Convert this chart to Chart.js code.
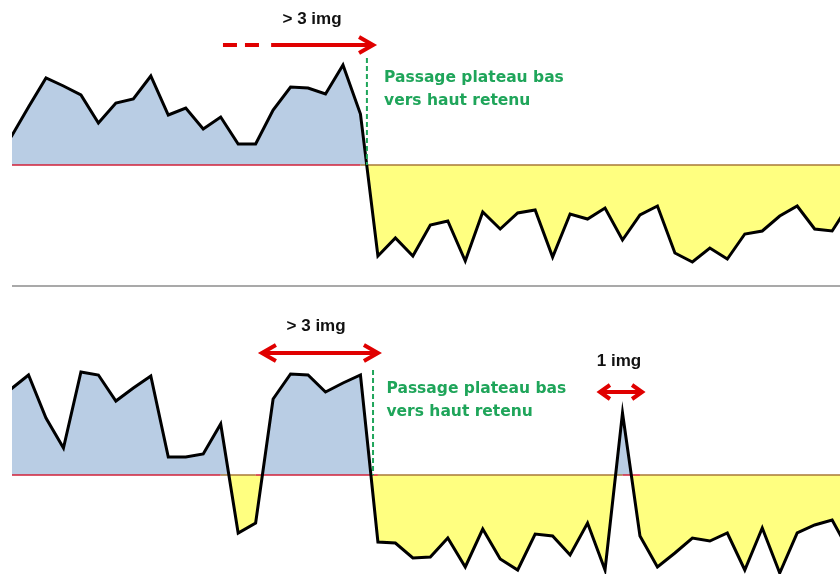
<!DOCTYPE html>
<html lang="fr">

<head>
    <meta charset="UTF-8" />
    <title>Passage plateau bas vers haut</title>
    <script src="https://cdn.jsdelivr.net/npm/chart.js"></script>
    <style>
        body { margin: 0; background: #fff; width: 840px; height: 574px; overflow: hidden; }
        canvas { display: block; }
        .sep { margin-left: 12px; width: 828px; height: 2px; background: #a9a9a9; }
    </style>
</head>

<body>
    <canvas id="haut" width="840" height="285"></canvas>
    <div class="sep"></div>
    <canvas id="bas" width="840" height="287"></canvas>

    <script>
        // indices d'image (les deux bords sont coupés)
        const images = [-2, -1, 0, 1, 2, 3, 4, 5, 6, 7, 8, 9, 10, 11, 12, 13, 14, 15, 16, 17, 18, 19, 20,
            21, 22, 23, 24, 25, 26, 27, 28, 29, 30, 31, 32, 33, 34, 35, 36, 37, 38, 39, 40, 41, 42, 43, 44, 45, 46];
        const seuil = 100;

        // niveau mesuré - cas 1 (plateau bas -> haut)
        const niveauHaut = [128, 158, 187, 179, 170, 142, 162, 166, 189, 150, 157, 136, 148, 121, 121, 155, 178, 177, 171, 200, 151,
            9, 27, 9, 40, 44, 4, 53, 36, 52, 55, 8, 51, 46, 57, 25, 50, 59, 12, 3, 17, 6, 31, 34, 49, 59, 36, 34, 61];

        // niveau mesuré - cas 2 (avec un pic isolé)
        const niveauBas = [186, 200, 157, 127, 203, 200, 174, 187, 199, 118, 118, 121, 151, 42, 52, 176, 201, 200, 183, 192, 200,
            33, 32, 17, 18, 37, 8, 46, 16, 5, 41, 39, 20, 52, 5, 162, 39, 8, 22, 37, 34, 42, 5, 47, 2, 42, 50, 55, 23];

        const xMin = -1.946, xMax = 45.45;

        const BLEU = "#b9cde4";
        const JAUNE = "#ffff80";
        const ROUGE = "#e00000";
        const VERT = "#1fa55a";

        // annotations (x en indice d'image, y en niveau)
        const notesHaut = {
            textes: [{ t: "> 3 img", x: 15.23, y: 241 }],
            fleches: [{ de: 10.13, a: 18.72, y: 220, pointilleJusqua: 12.2, debut: false, fin: true, tete: 14, demi: 8 }],
            repere: { x: 18.37, de: 207, a: seuil },
            legende: { x: 19.35, y1: 183, y2: 160 }
        };
        const notesBas = {
            textes: [{ t: "> 3 img", x: 15.46, y: 244 }, { t: "1 img", x: 32.8, y: 209 }],
            fleches: [
                { de: 12.36, a: 19.0, y: 222, debut: true, fin: true, tete: 14, demi: 8 },
                { de: 31.71, a: 34.12, y: 183, debut: true, fin: true, tete: 10, demi: 7 }
            ],
            repere: { x: 18.72, de: 205, a: seuil },
            legende: { x: 19.49, y1: 182, y2: 159 }
        };

        function chevron(ctx, xt, y, dir, len, demi) {
            ctx.beginPath();
            ctx.moveTo(xt - dir * len, y - demi);
            ctx.lineTo(xt, y);
            ctx.lineTo(xt - dir * len, y + demi);
            ctx.stroke();
        }

        const annotations = {
            id: "annotations",
            afterDatasetsDraw(chart, args, opts) {
                const n = opts.notes;
                const ctx = chart.ctx, sx = chart.scales.x, sy = chart.scales.y;
                ctx.save();

                // trait vertical pointillé vert
                ctx.strokeStyle = VERT;
                ctx.lineWidth = 2;
                ctx.setLineDash([5, 3]);
                ctx.beginPath();
                ctx.moveTo(sx.getPixelForValue(n.repere.x), sy.getPixelForValue(n.repere.de));
                ctx.lineTo(sx.getPixelForValue(n.repere.x), sy.getPixelForValue(n.repere.a));
                ctx.stroke();
                ctx.setLineDash([]);

                // flèches rouges
                ctx.strokeStyle = ROUGE;
                ctx.lineWidth = 4;
                ctx.lineJoin = "miter";
                n.fleches.forEach(f => {
                    const x1 = sx.getPixelForValue(f.de), x2 = sx.getPixelForValue(f.a), y = sy.getPixelForValue(f.y);
                    if (f.pointilleJusqua !== undefined) {
                        const xp = sx.getPixelForValue(f.pointilleJusqua);
                        ctx.setLineDash([14, 8]);
                        ctx.beginPath();
                        ctx.moveTo(x1, y);
                        ctx.lineTo(xp, y);
                        ctx.stroke();
                        ctx.setLineDash([]);
                        ctx.beginPath();
                        ctx.moveTo(xp + 12, y);
                        ctx.lineTo(x2 - 2, y);
                        ctx.stroke();
                    } else {
                        ctx.beginPath();
                        ctx.moveTo(x1 + 2, y);
                        ctx.lineTo(x2 - 2, y);
                        ctx.stroke();
                    }
                    if (f.debut) chevron(ctx, x1, y, -1, f.tete, f.demi);
                    if (f.fin) chevron(ctx, x2, y, 1, f.tete, f.demi);
                });

                // textes noirs
                ctx.fillStyle = "#111";
                ctx.font = "bold 17px 'Liberation Sans', Arial, sans-serif";
                ctx.textAlign = "center";
                ctx.textBaseline = "alphabetic";
                n.textes.forEach(t => ctx.fillText(t.t, sx.getPixelForValue(t.x), sy.getPixelForValue(t.y)));

                // texte vert
                ctx.fillStyle = VERT;
                ctx.font = "bold 15.5px 'DejaVu Sans', sans-serif";
                ctx.textAlign = "left";
                const xl = sx.getPixelForValue(n.legende.x);
                ctx.fillText("Passage plateau bas", xl, sy.getPixelForValue(n.legende.y1));
                ctx.fillText("vers haut retenu", xl, sy.getPixelForValue(n.legende.y2));

                ctx.restore();
            }
        };

        function tracer(id, niveaux, yMin, yMax, notes) {
            const points = images.map((x, i) => ({ x: x, y: niveaux[i] }));
            const ligneSeuil = images.map(x => ({ x: x, y: seuil }));
            new Chart(document.getElementById(id), {
                type: "line",
                data: {
                    datasets: [
                        {
                            label: "Niveau",
                            data: points,
                            borderColor: "#000",
                            borderWidth: 3,
                            borderJoinStyle: "miter",
                            pointRadius: 0,
                            fill: { target: { value: seuil }, above: BLEU, below: JAUNE },
                            clip: 0,
                            order: 0
                        },
                        {
                            label: "Seuil",
                            data: ligneSeuil,
                            borderWidth: 1.5,
                            pointRadius: 0,
                            fill: false,
                            clip: 0,
                            order: 1,
                            segment: {
                                borderColor: c => (niveaux[c.p0DataIndex] + niveaux[c.p1DataIndex]) / 2 >= seuil ? "#d0203a" : "#a87838"
                            }
                        }
                    ]
                },
                options: {
                    responsive: false,
                    animation: false,
                    devicePixelRatio: 1,
                    layout: { padding: { left: 12, right: 0, top: 0, bottom: 0 } },
                    scales: {
                        x: { type: "linear", min: xMin, max: xMax, display: false },
                        y: { min: yMin, max: yMax, display: false }
                    },
                    plugins: {
                        legend: { display: false },
                        tooltip: { enabled: false },
                        filler: { drawTime: "beforeDatasetsDraw" },
                        annotations: { notes: notes }
                    }
                },
                plugins: [annotations]
            });
        }

        tracer("haut", niveauHaut, -20, 265, notesHaut);
        tracer("bas", niveauBas, 1, 288, notesBas);
    </script>
</body>

</html>
